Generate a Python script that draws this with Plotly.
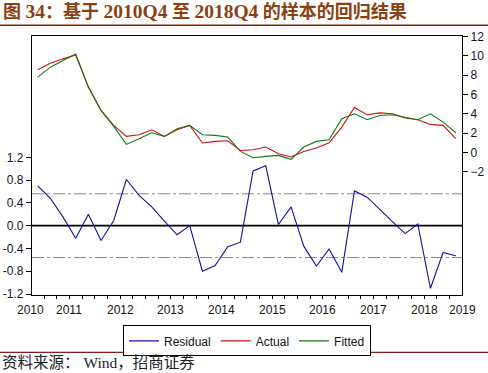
import plotly.graph_objects as go

# ---- data ----
quarters = ["2010Q4"] + [f"{y}Q{q}" for y in range(2011, 2019) for q in range(1, 5)] + ["2019Q1"]

actual = [8.57, 9.25, 9.7, 10.1, 6.77, 4.35, 2.8, 1.66, 1.83, 2.35, 1.66, 2.35, 2.8, 0.97, 1.14, 1.2, 0.2,
          0.28, 0.55, -0.14, -0.48, 0.1, 0.45, 1.0, 2.62, 4.66, 3.9, 4.1, 4.0, 3.56, 3.39, 2.9, 2.8, 1.42]
fitted = [7.8, 8.84, 9.53, 10.2, 6.77, 4.35, 2.7, 0.83, 1.42, 2.04, 1.66, 2.45, 2.8, 1.83, 1.76, 1.59, 0.1,
          -0.55, -0.41, -0.31, -0.72, 0.55, 1.14, 1.31, 3.49, 4.0, 3.39, 3.83, 3.9, 3.66, 3.39, 4.0, 3.14, 2.04]
residual = [0.7, 0.48, 0.15, -0.22, 0.2, -0.26, 0.09, 0.81, 0.53, 0.33, 0.08, -0.16, 0.0, -0.8, -0.7, -0.37, -0.29,
            0.96, 1.05, 0.02, 0.33, -0.36, -0.71, -0.41, -0.82, 0.61, 0.5, 0.28, 0.07, -0.14, 0.03, -1.1, -0.47, -0.53]
resid_band = 0.56

year_labels = ["2010", "2011", "2012", "2013", "2014", "2015", "2016", "2017", "2018", "2019"]
left_ticks = [-1.2, -0.8, -0.4, 0.0, 0.4, 0.8, 1.2]
right_ticks = [-2, 0, 2, 4, 6, 8, 10, 12]

L = '<span style="font-size:19.5px">'
title_text = f"<b>图 {L}34</span>：基于 {L}2010Q4</span> 至 {L}2018Q4</span> 的样本的回归结果</b>"
source_text = "资料来源： Wind，招商证券"

# ---- geometry helpers ----
XMIN, XMAX = -0.45, 33.49
x = list(range(len(quarters)))
major_ticks = [i - 0.5 for i, q in enumerate(quarters) if q.endswith("Q1")]
minor_ticks = [i + 0.5 for i in range(len(quarters))]
year_pos = {}
for i, q in enumerate(quarters):
    year_pos.setdefault(q[:4], []).append(i)
label_x = []
for yl in year_labels:
    idx = year_pos[yl]
    if len(idx) == 4:
        label_x.append(idx[0] + 1.5)
    elif yl == year_labels[0]:
        label_x.append(idx[0] - 0.55)
    else:
        label_x.append(idx[0] + 0.5)


def to_paper(v):
    return (v - XMIN) / (XMAX - XMIN)


AX = "Liberation Sans, Arial, sans-serif"
fig = go.Figure()
fig.add_trace(go.Scatter(x=x, y=residual, name="Residual", mode="lines",
                         line=dict(color="#1010a0", width=1.1), yaxis="y"))
fig.add_trace(go.Scatter(x=x, y=actual, name="Actual", mode="lines",
                         line=dict(color="#d01010", width=1.1), yaxis="y2"))
fig.add_trace(go.Scatter(x=x, y=fitted, name="Fitted", mode="lines",
                         line=dict(color="#107a10", width=1.1), yaxis="y2"))

shapes = [
    dict(type="line", xref="paper", yref="y", x0=0, x1=1, y0=0, y1=0,
         line=dict(color="black", width=1.6), layer="below"),
    dict(type="line", xref="paper", yref="y", x0=0, x1=1, y0=resid_band, y1=resid_band,
         line=dict(color="#8a8a8a", width=1, dash="12px,3px,3px,3px"), layer="below"),
    dict(type="line", xref="paper", yref="y", x0=0, x1=1, y0=-resid_band, y1=-resid_band,
         line=dict(color="#8a8a8a", width=1, dash="12px,3px,3px,3px"), layer="below"),
    dict(type="line", xref="paper", yref="paper", x0=-32/430, x1=456/430, y0=1.0413, y1=1.0413,
         line=dict(color="#8b1a1a", width=1.6)),
    dict(type="line", xref="paper", yref="paper", x0=-32/430, x1=456/430, y0=-0.2212, y1=-0.2212,
         line=dict(color="#8b1a1a", width=1.3)),
]

annotations = [
    dict(text=title_text, xref="paper", yref="paper", x=-31/430, y=1.0927, xanchor="left", yanchor="middle",
         showarrow=False, font=dict(family="Liberation Serif, Noto Sans CJK SC", size=18, color="#8a4010")),
    dict(text=source_text, xref="paper", yref="paper", x=-32/430, y=-0.2625, xanchor="left", yanchor="middle",
         showarrow=False, font=dict(family="Liberation Serif, Noto Sans CJK SC", size=15.5, color="#222222")),
]
for yl, lx in zip(year_labels, label_x):
    annotations.append(dict(text=yl, xref="paper", yref="paper", x=to_paper(lx), y=-0.058,
                            xanchor="center", yanchor="middle",
                            showarrow=False, font=dict(family=AX, size=12, color="#111122")))

fig.update_layout(
    width=488, height=373,
    margin=dict(l=32, r=26, t=36, b=78, autoexpand=False),
    paper_bgcolor="white", plot_bgcolor="white",
    showlegend=True,
    legend=dict(orientation="h", x=0.5, xanchor="center", y=-0.1174, yanchor="top",
                bordercolor="black", borderwidth=1, font=dict(family=AX, size=12, color="#111122"),
                itemwidth=30, tracegroupgap=0),
    xaxis=dict(range=[XMIN, XMAX], showgrid=False, zeroline=False, showline=True, linecolor="black",
               linewidth=1.3, mirror=True, tickmode="array", tickvals=major_ticks, ticktext=[""] * len(major_ticks),
               ticks="outside", ticklen=5, tickcolor="black", tickwidth=1, automargin=False,
               minor=dict(tickmode="array", tickvals=minor_ticks, ticks="outside", ticklen=3,
                          tickcolor="black", tickwidth=1, showgrid=False)),
    yaxis=dict(range=[-1.2176, 3.3296], showgrid=False, zeroline=False, showline=True, linecolor="black",
               linewidth=1.3, mirror=True, tickmode="array", tickvals=left_ticks, automargin=False,
               ticktext=[f"{v:.1f}" for v in left_ticks], ticks="outside", ticklen=5, tickcolor="black",
               tickfont=dict(family=AX, size=12, color="#111133")),
    yaxis2=dict(range=[-14.79, 12.07], overlaying="y", side="right", showgrid=False, zeroline=False,
                showline=True, linecolor="black", linewidth=1.3, tickmode="array", tickvals=right_ticks,
                ticks="outside", ticklen=5, tickcolor="black", automargin=False,
                tickfont=dict(family=AX, size=12, color="#111133")),
    shapes=shapes, annotations=annotations,
)

fig.write_html("out.html", config={"displayModeBar": False},
               post_script="document.body.style.margin='0';document.body.style.padding='0';")
